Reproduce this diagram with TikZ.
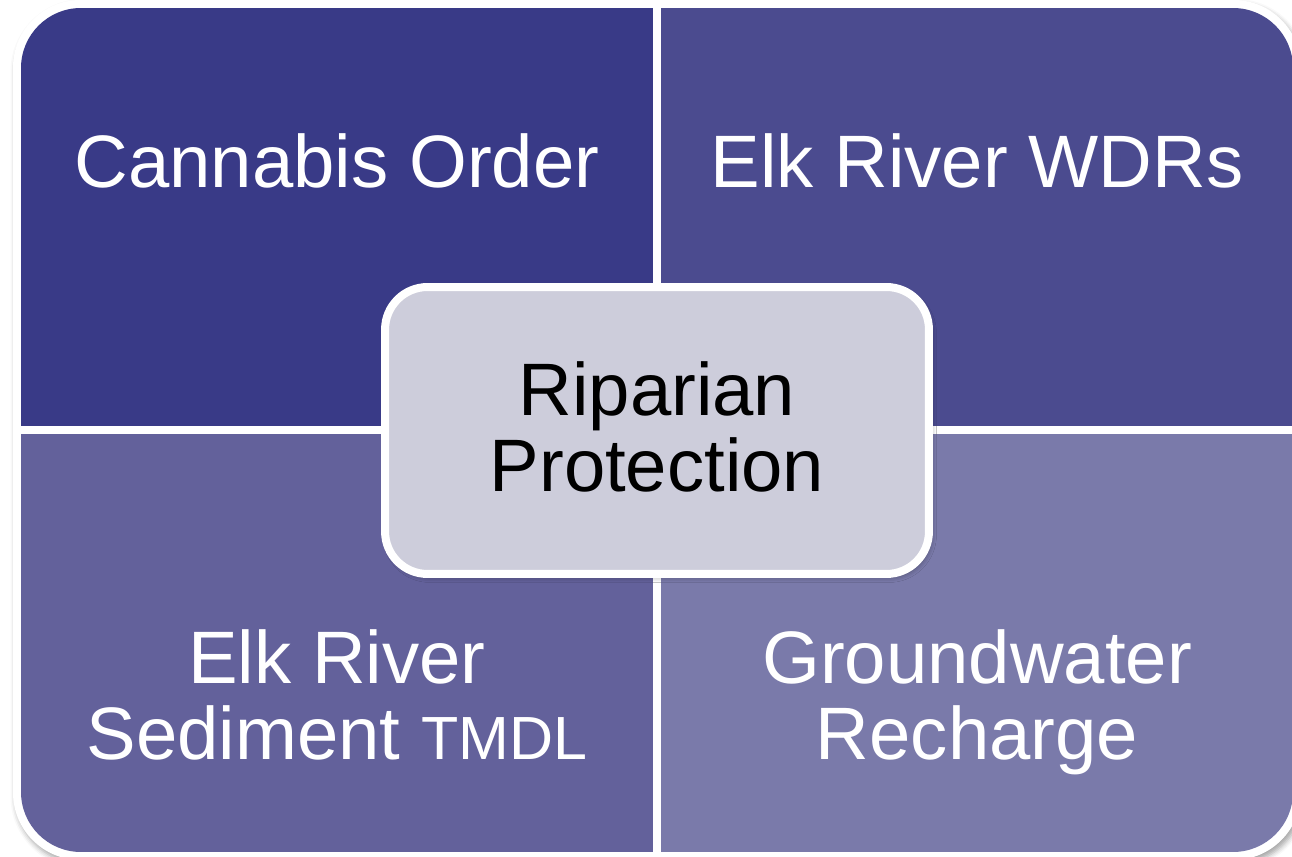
\documentclass[tikz,border=0pt]{standalone}
\usepackage{fontspec}
\setmainfont{Liberation Sans}
\usetikzlibrary{shadows.blur}
\definecolor{quadTL}{HTML}{393A87}
\definecolor{quadTR}{HTML}{4B4B8F}
\definecolor{quadBL}{HTML}{63619B}
\definecolor{quadBR}{HTML}{7A7AAA}
\definecolor{hubfill}{HTML}{CDCDDB}
\tikzset{%
  quadtext/.style={text=white, align=center, anchor=base, inner sep=0pt,
    font=\fontsize{42.3}{43.8}\selectfont},
  hubbox/.style={rounded corners=0.85cm, fill=hubfill, draw=white, line width=0.16cm,
    minimum width=10.88cm, minimum height=5.74cm,
    blur shadow={shadow xshift=0.05cm, shadow yshift=-0.07cm, shadow opacity=35, shadow blur radius=0.1cm}},
  hubtext/.style={quadtext, text=black}
}

\begin{document}
\begin{tikzpicture}[x=0.02cm, y=-0.02cm]
\useasboundingbox (0,0) rectangle (1292,857);

% outer frame
\fill [white, rounded corners=1.35cm,
  blur shadow={shadow xshift=0.05cm, shadow yshift=-0.08cm, shadow opacity=35, shadow blur radius=0.1cm}]
  (13,0) rectangle (1301,860);

\begin{scope}
  \clip [rounded corners=1.2cm] (21,8) rectangle (1293,852);
  \fill [quadTL] (21,8) rectangle (657,430);
  \fill [quadTR] (657,8) rectangle (1293,430);
  \fill [quadBL] (21,430) rectangle (657,852);
  \fill [quadBR] (657,430) rectangle (1293,852);
  % dividers
  \fill [white] (653,0) rectangle (661,857);
  \fill [white] (0,426) rectangle (1292,434);
\end{scope}

% base = last line
\node [quadtext] (cannabis) at (337,188) {Cannabis Order};
\node [quadtext] (wdrs) at (977,188) {Elk River WDRs};
\node [quadtext] (tmdl) at (337,760) {Elk River\\Sediment {\fontsize{34.7}{43.8}\selectfont TMDL}};
\node [quadtext] (recharge) at (977,760) {Groundwater\\Recharge};

% center
\node [hubbox] (hub) at (657,430.5) {};
\node [hubtext] (hublabel) at (657,492) {Riparian\\Protection};
\end{tikzpicture}
\end{document}
